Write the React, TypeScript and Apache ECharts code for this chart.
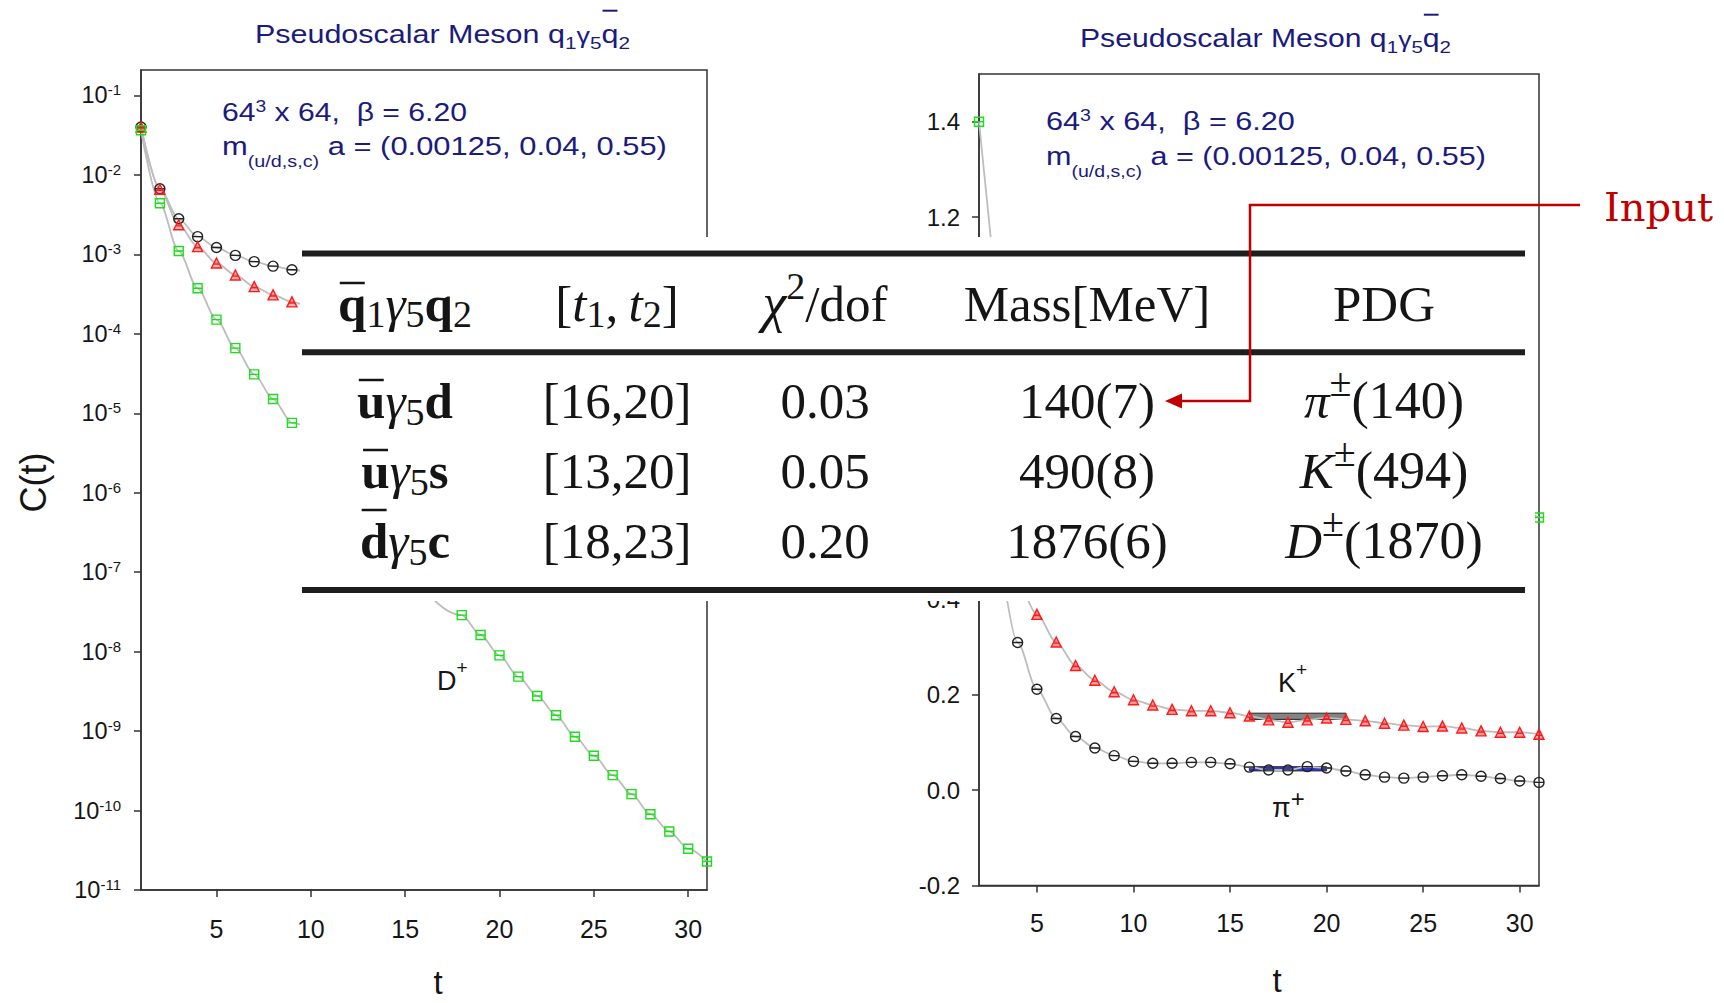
import React, { useEffect, useRef } from "react";
import * as echarts from "echarts";

// ---------------- Data ----------------
// Left panel: correlators C(t), log scale
const piCorrT = [1, 2, 3, 4, 5, 6, 7, 8, 9, 10];
const piCorr = [4.01e-2, 6.7e-3, 2.8e-3, 1.67e-3, 1.22e-3, 9.7e-4, 8.1e-4, 7.1e-4, 6.4e-4, 5.9e-4];
const kCorrT = [1, 2, 3, 4, 5, 6, 7, 8, 9, 10];
const kCorr = [4.01e-2, 6.6e-3, 2.36e-3, 1.25e-3, 7.78e-4, 5.5e-4, 3.93e-4, 3.09e-4, 2.52e-4, 2.05e-4];
const dCorrT = [1, 2, 3, 4, 5, 6, 7, 8, 9, 18, 19, 20, 21, 22, 23, 24, 25, 26, 27, 28, 29, 30, 31];
const dCorr = [
  3.64e-2, 4.4e-3, 1.1e-3, 3.74e-4, 1.51e-4, 6.6e-5, 3.09e-5, 1.51e-5, 7.57e-6,
  2.88e-8, 1.62e-8, 8.98e-9, 4.84e-9, 2.77e-9, 1.58e-9, 8.5e-10, 4.9e-10, 2.79e-10,
  1.61e-10, 9.0e-11, 5.46e-11, 3.31e-11, 2.28e-11,
];

// Right panel: effective masses
const piMeffT = [3, 4, 5, 6, 7, 8, 9, 10, 11, 12, 13, 14, 15, 16, 17, 18, 19, 20, 21, 22, 23, 24, 25, 26, 27, 28, 29, 30, 31];
const piMeff = [
  0.52, 0.309, 0.211, 0.15, 0.112, 0.088, 0.072, 0.06, 0.056, 0.056, 0.058, 0.058, 0.055, 0.048,
  0.042, 0.042, 0.049, 0.046, 0.04, 0.032, 0.027, 0.025, 0.027, 0.03, 0.032, 0.029, 0.024, 0.019, 0.016,
];
const kMeffT = [4, 5, 6, 7, 8, 9, 10, 11, 12, 13, 14, 15, 16, 17, 18, 19, 20, 21, 22, 23, 24, 25, 26, 27, 28, 29, 30, 31];
const kMeff = [
  0.46, 0.368, 0.31, 0.261, 0.23, 0.206, 0.189, 0.178, 0.169, 0.166, 0.166, 0.162, 0.155, 0.147,
  0.142, 0.147, 0.151, 0.148, 0.145, 0.14, 0.136, 0.133, 0.134, 0.13, 0.124, 0.121, 0.121, 0.117,
];
const dMeffT = [2, 3, 31];
const dMeff = [1.4, 1.0, 0.571];

const kFitRange = [16, 21];
const kFitBand = [0.148, 0.161];
const piFitRange = [16, 20];
const piFitBand = [0.04, 0.049];

// Axis ticks
const xTickValues = [5, 10, 15, 20, 25, 30];
const logTickValues = [1e-11, 1e-10, 1e-9, 1e-8, 1e-7, 1e-6, 1e-5, 1e-4, 1e-3, 1e-2, 1e-1];
const linTickValues = [-0.2, 0, 0.2, 0.4, 0.6, 0.8, 1.0, 1.2, 1.4];

// Table content
const opQ1 = ["u", "u", "d"];
const opQ2 = ["d", "s", "c"];
const fitWindows = ["[16,20]", "[13,20]", "[18,23]"];
const chi2dof = ["0.03", "0.05", "0.20"];
const massesMeV = ["140(7)", "490(8)", "1876(6)"];
const pdgSymbols = ["π", "K", "D"];
const pdgMasses = ["(140)", "(494)", "(1870)"];

// ---------------- Text layout helpers ----------------
const NAVY = "#1b1b7d";
const INK = "#151515";
const SANS = "Liberation Sans";
const SERIF = "Liberation Serif";
const RED = "#c00000";

const ctx2d = document.createElement("canvas").getContext("2d") as CanvasRenderingContext2D;
function measure(text: string, size: number, family: string, weight: string, style: string) {
  ctx2d.font = `${style} ${weight} ${size}px "${family}"`;
  return ctx2d.measureText(text).width;
}
function centralK(family: string) {
  if (family === SERIF) return 0.3375;
  if (family === "DejaVu Serif") return 0.346;
  return 0.3465;
}

type Run = { t: string; s?: number; w?: string; i?: boolean; dy?: number; over?: number; f?: string };

function runEls(
  list: Run[],
  x: number,
  base: number,
  o: { size: number; family: string; color: string; align?: "left" | "center"; fit?: number; z?: number; overWidth?: number }
) {
  const widths = list.map((r) =>
    measure(r.t, r.s ?? o.size, r.f ?? o.family, r.w ?? "normal", r.i ? "italic" : "normal")
  );
  const nat = widths.reduce((a, b) => a + b, 0);
  const sx = o.fit ? o.fit / nat : 1;
  let cx = o.align === "center" ? x - (nat * sx) / 2 : x;
  const z = o.z ?? 120;
  const out: any[] = [];
  list.forEach((r, i) => {
    const size = r.s ?? o.size;
    const fam = r.f ?? o.family;
    const b = base + (r.dy ?? 0);
    out.push({
      type: "text",
      x: cx,
      y: b - centralK(fam) * size,
      scaleX: sx,
      z,
      silent: true,
      style: {
        text: r.t,
        fontSize: size,
        fontFamily: fam,
        fontWeight: r.w ?? "normal",
        fontStyle: r.i ? "italic" : "normal",
        fill: o.color,
        align: "left",
        textAlign: "left",
        verticalAlign: "middle",
        textVerticalAlign: "middle",
      },
    });
    if (r.over) {
      const w = widths[i] * sx;
      out.push({
        type: "line",
        z,
        silent: true,
        shape: { x1: cx + w * 0.06, y1: base - r.over, x2: cx + w * 0.94, y2: base - r.over },
        style: { stroke: o.color, lineWidth: o.overWidth ?? 2.5 },
      });
    }
    cx += widths[i] * sx;
  });
  return out;
}

function plainText(text: string, x: number, y: number, size: number, extra: any = {}) {
  return {
    type: "text",
    x,
    y,
    z: 120,
    silent: true,
    ...extra,
    style: {
      text,
      fontSize: size,
      fontFamily: SANS,
      fill: INK,
      align: "center",
      textAlign: "center",
      verticalAlign: "middle",
      textVerticalAlign: "middle",
    },
  };
}

// ---------------- Chart option ----------------
function buildOption() {
  const axisLineStyle = { color: "#333", width: 1.5 };
  const pairs = (ts: number[], vs: number[]) => ts.map((t, i) => [t, vs[i]]);

  const xAxisBase = (gridIndex: number, min: number, margin: number) => ({
    type: "value",
    gridIndex,
    min,
    max: 31,
    axisLine: { show: true, onZero: false, lineStyle: axisLineStyle },
    axisTick: { show: true, inside: false, length: 7, customValues: xTickValues, lineStyle: axisLineStyle },
    axisLabel: { customValues: xTickValues, margin, fontSize: 25, fontFamily: SANS, color: INK },
    splitLine: { show: false },
  });

  const grayLine = (xi: number, data: any[], smooth: number | boolean) => ({
    type: "line",
    xAxisIndex: xi,
    yAxisIndex: xi,
    data,
    symbol: "none",
    showSymbol: false,
    smooth,
    smoothMonotone: "x",
    lineStyle: { color: "#bdbdbd", width: 1.8 },
    silent: true,
    z: 2,
  });

  const CIRCLE = "path://M0,5A5,5 0 1 1 10,5A5,5 0 1 1 0,5Z M0,5L10,5";
  const TRI = "path://M5,0L10,9L0,9Z M1.6,5.5L8.4,5.5";
  const SQUARE = "path://M0,0L10,0L10,10L0,10Z M0,5L10,5";

  const marks = (xi: number, data: any[], symbol: string, stroke: string, fill: string, size: number) => ({
    type: "scatter",
    xAxisIndex: xi,
    yAxisIndex: xi,
    data,
    symbol,
    symbolSize: size,
    itemStyle: { color: fill, borderColor: stroke, borderWidth: 1.4, opacity: 1 },
    silent: true,
    z: 3,
  });

  // graphic elements
  const g: any[] = [];

  // Titles
  const titleRuns = (): Run[] => [
    { t: "Pseudoscalar Meson q" },
    { t: "1", s: 17, dy: 6 },
    { t: "γ", s: 22 },
    { t: "5", s: 17, dy: 6 },
    { t: "q", over: 32 },
    { t: "2", s: 17, dy: 6 },
  ];
  g.push(...runEls(titleRuns(), 255, 42.7, { size: 25, family: SANS, color: NAVY, fit: 375, overWidth: 2 }));
  g.push(...runEls(titleRuns(), 1080, 46.7, { size: 25, family: SANS, color: NAVY, fit: 371, overWidth: 2 }));

  // Lattice annotations
  const line1 = (): Run[] => [{ t: "64" }, { t: "3", s: 16, dy: -9 }, { t: " x 64,  β = 6.20" }];
  const line2 = (): Run[] => [{ t: "m" }, { t: "(u/d,s,c)", s: 16, dy: 12 }, { t: " a = (0.00125, 0.04, 0.55)" }];
  g.push(...runEls(line1(), 222, 120.7, { size: 25, family: SANS, color: NAVY, fit: 245 }));
  g.push(...runEls(line2(), 222, 155, { size: 25, family: SANS, color: NAVY, fit: 445 }));
  g.push(...runEls(line1(), 1046, 130, { size: 25, family: SANS, color: NAVY, fit: 249 }));
  g.push(...runEls(line2(), 1046, 165, { size: 25, family: SANS, color: NAVY, fit: 440 }));

  // Particle labels
  g.push(...runEls([{ t: "D" }, { t: "+", s: 19, dy: -16 }], 437, 690, { size: 27, family: SANS, color: INK }));
  g.push(...runEls([{ t: "K" }, { t: "+", s: 19, dy: -16 }], 1278, 692, { size: 27, family: SANS, color: INK }));
  g.push(...runEls([{ t: "π" }, { t: "+", s: 24, dy: -10 }], 1272, 817, { size: 27, family: SANS, color: INK }));

  // Axis names
  g.push(plainText("C(t)", 33.5, 482.5, 36, { rotation: Math.PI / 2 }));
  g.push(plainText("t", 438, 982, 33));
  g.push(plainText("t", 1277, 980, 33));

  // Table overlay
  g.push({ type: "rect", z: 100, silent: true, shape: { x: 300, y: 237, width: 1235, height: 364 }, style: { fill: "#ffffff" } });
  const ruleYs = [253.5, 352.3, 590];
  ruleYs.forEach((y) =>
    g.push({ type: "rect", z: 110, silent: true, shape: { x: 302, y: y - 3, width: 1223, height: 6 }, style: { fill: "#1e1e1e" } })
  );
  const colX = [405, 617, 825, 1087, 1384];
  const T = { size: 51, family: SERIF, color: INK, align: "center" as const };
  const headerBase = 321;
  g.push(
    ...runEls(
      [
        { t: "q", w: "bold", over: 38 },
        { t: "1", s: 38, dy: 6 },
        { t: "γ", i: true },
        { t: "5", s: 38, dy: 6 },
        { t: "q", w: "bold" },
        { t: "2", s: 38, dy: 6 },
      ],
      colX[0],
      headerBase,
      T
    )
  );
  g.push(
    ...runEls(
      [
        { t: "[" },
        { t: "t", i: true },
        { t: "1", s: 38, dy: 6 },
        { t: ",\u2009" },
        { t: "t", i: true },
        { t: "2", s: 38, dy: 6 },
        { t: "]" },
      ],
      colX[1],
      headerBase,
      T
    )
  );
  g.push(...runEls([{ t: "χ", i: true, s: 54 }, { t: "2", s: 38, dy: -22 }, { t: "/dof" }], colX[2], headerBase, T));
  g.push(...runEls([{ t: "Mass[MeV]" }], colX[3], headerBase, T));
  g.push(...runEls([{ t: "PDG" }], colX[4], headerBase, T));

  const rowBases = [418, 488, 558];
  rowBases.forEach((b, r) => {
    g.push(
      ...runEls(
        [
          { t: opQ1[r], w: "bold", over: opQ1[r] === "d" ? 48 : 38 },
          { t: "γ", i: true },
          { t: "5", s: 38, dy: 7 },
          { t: opQ2[r], w: "bold" },
        ],
        colX[0],
        b,
        T
      )
    );
    g.push(...runEls([{ t: fitWindows[r] }], colX[1], b, T));
    g.push(...runEls([{ t: chi2dof[r] }], colX[2], b, T));
    g.push(...runEls([{ t: massesMeV[r] }], colX[3], b, T));
    g.push(
      ...runEls(
        [{ t: pdgSymbols[r], i: true }, { t: "±", s: 40, dy: -22 }, { t: pdgMasses[r], s: 52 }],
        colX[4],
        b,
        T
      )
    );
  });

  // "Input" annotation arrow
  g.push({
    type: "polyline",
    z: 130,
    silent: true,
    shape: { points: [[1580, 205], [1250, 205], [1250, 401], [1178, 401]] },
    style: { stroke: RED, lineWidth: 2.5, fill: "none" },
  });
  g.push({
    type: "polygon",
    z: 130,
    silent: true,
    shape: { points: [[1165, 401], [1182, 393.5], [1182, 408.5]] },
    style: { fill: RED },
  });
  g.push(...runEls([{ t: "Input" }], 1604, 221, { size: 40, family: "DejaVu Serif", color: RED, z: 130 }));

  return {
    animation: false,
    backgroundColor: "#ffffff",
    grid: [
      { left: 141, top: 70, width: 566, height: 820, show: true, borderColor: "#333", borderWidth: 1.5, backgroundColor: "transparent" },
      { left: 979, top: 74, width: 560, height: 811.5, show: true, borderColor: "#333", borderWidth: 1.5, backgroundColor: "transparent" },
    ],
    xAxis: [xAxisBase(0, 1, 26), xAxisBase(1, 2, 25)],
    yAxis: [
      {
        type: "log",
        logBase: 10,
        gridIndex: 0,
        min: 1e-11,
        max: 0.209,
        axisLine: { show: true, onZero: false, lineStyle: axisLineStyle },
        axisTick: { show: true, inside: false, length: 7, customValues: logTickValues, lineStyle: axisLineStyle },
        axisLabel: {
          customValues: logTickValues,
          margin: 20,
          formatter: (v: number) => `{b|10}{e|${Math.round(Math.log10(v))}}`,
          rich: {
            b: { fontSize: 23.5, lineHeight: 26, fontFamily: SANS, color: INK },
            e: { fontSize: 15, lineHeight: 14, verticalAlign: "top", fontFamily: SANS, color: INK },
          },
        },
        splitLine: { show: false },
      },
      {
        type: "value",
        gridIndex: 1,
        min: -0.2,
        max: 1.5,
        axisLine: { show: true, onZero: false, lineStyle: axisLineStyle },
        axisTick: { show: true, inside: false, length: 7, customValues: linTickValues, lineStyle: axisLineStyle },
        axisLabel: {
          customValues: linTickValues,
          margin: 19,
          formatter: (v: number) => v.toFixed(1),
          fontSize: 24,
          fontFamily: SANS,
          color: INK,
        },
        splitLine: { show: false },
      },
    ],
    series: [
      grayLine(0, pairs(piCorrT, piCorr), 0.3),
      grayLine(0, pairs(kCorrT, kCorr), 0.3),
      grayLine(0, pairs(dCorrT, dCorr), 0.3),
      marks(0, pairs(piCorrT, piCorr), CIRCLE, "#222222", "rgba(0,0,0,0)", 10),
      marks(0, pairs(kCorrT, kCorr), TRI, "#ff1a1a", "rgba(255,40,40,0.35)", 10),
      marks(0, pairs(dCorrT, dCorr), SQUARE, "#19e019", "rgba(0,0,0,0)", 9),
      {
        ...grayLine(1, pairs(piMeffT, piMeff), 0.3),
        markArea: {
          silent: true,
          label: { show: false },
          itemStyle: { color: "#2f35d8", borderColor: "#333", borderWidth: 1 },
          data: [[{ coord: [piFitRange[0], piFitBand[0]] }, { coord: [piFitRange[1], piFitBand[1]] }]],
        },
      },
      {
        ...grayLine(1, pairs(kMeffT, kMeff), 0.3),
        markArea: {
          silent: true,
          label: { show: false },
          itemStyle: { color: "rgba(110,110,110,0.85)", borderColor: "#222", borderWidth: 1 },
          data: [[{ coord: [kFitRange[0], kFitBand[0]] }, { coord: [kFitRange[1], kFitBand[1]] }]],
        },
      },
      grayLine(1, pairs(dMeffT, dMeff), false),
      marks(1, pairs(piMeffT, piMeff), CIRCLE, "#222222", "rgba(0,0,0,0)", 10),
      marks(1, pairs(kMeffT, kMeff), TRI, "#ff1a1a", "rgba(255,40,40,0.45)", 10),
      marks(1, pairs(dMeffT, dMeff), SQUARE, "#19e019", "rgba(0,0,0,0)", 9),
    ],
    graphic: { elements: g },
  };
}

export default function App() {
  const ref = useRef<HTMLDivElement>(null);
  useEffect(() => {
    if (!ref.current) return;
    const chart = echarts.init(ref.current, undefined, { renderer: "svg" });
    chart.setOption(buildOption() as any);
    return () => chart.dispose();
  }, []);
  return (
    <div
      ref={ref}
      style={{ position: "fixed", left: 0, top: 0, width: 1724, height: 1003, background: "#ffffff" }}
    />
  );
}
